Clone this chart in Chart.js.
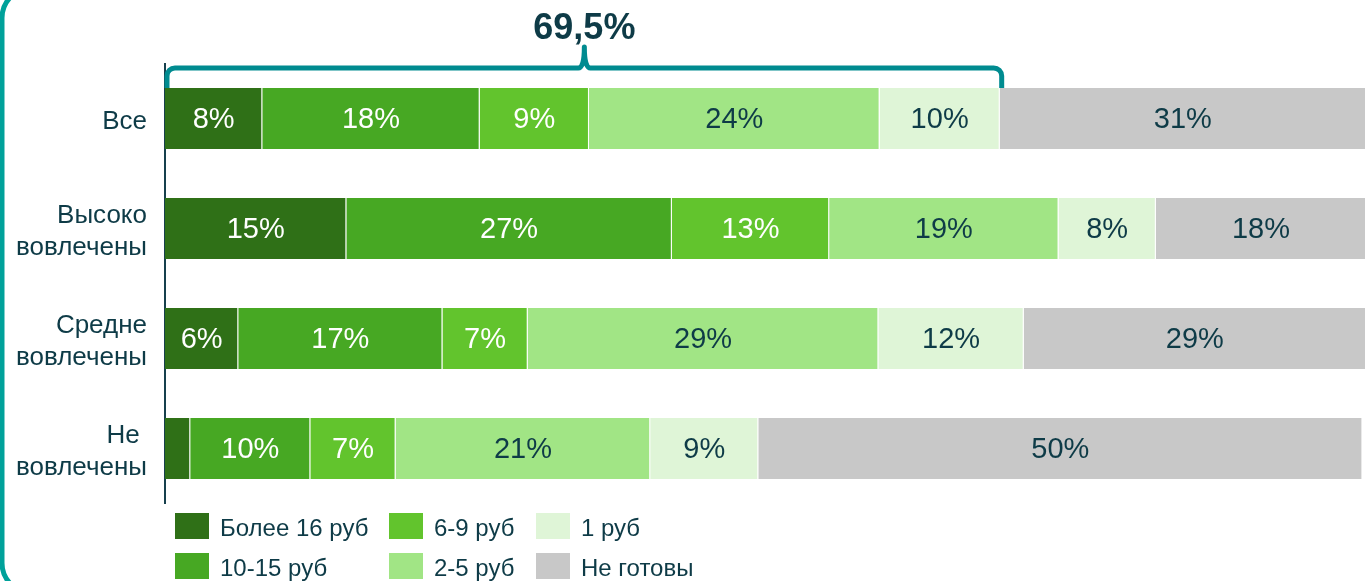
<!DOCTYPE html>
<html lang="ru">
  <head>
    <meta charset="utf-8" />
    <script src="https://cdn.jsdelivr.net/npm/chart.js"></script>
    <title>Готовность платить</title>
    <style>
      body {
        margin: 0;
        padding: 0;
        background: #ffffff;
      }

      #wrap {
        width: 1366px;
        height: 581px;
        position: relative;
      }
    </style>
  </head>
  <body>
    <div id="wrap">
      <canvas id="myChart"></canvas>
    </div>

    <script>
      // Категории (подписи оси Y)
      var categories = [['Все'], ['Высоко', 'вовлечены'], ['Средне', 'вовлечены'], ['Не ', 'вовлечены']];

      // Доли по сериям, %
      var more16 = [8.1, 15.1, 6.1, 2.1];
      var rub10to15 = [18.1, 27.1, 17.0, 10.0];
      var rub6to9 = [9.1, 13.1, 7.1, 7.1];
      var rub2to5 = [24.2, 19.1, 29.2, 21.2];
      var rub1 = [10.0, 8.1, 12.1, 9.0];
      var notReady = [30.5, 17.5, 28.5, 50.3];

      var seriesNames = ['Более 16 руб', '10-15 руб', '6-9 руб', '2-5 руб', '1 руб', 'Не готовы'];
      var seriesColors = ['#2f7017', '#47a823', '#62c42d', '#a1e585', '#dff5d7', '#c8c8c8'];
      var labelColors = ['#ffffff', '#ffffff', '#ffffff', '#0e3b47', '#0e3b47', '#0e3b47'];

      var textColor = '#0e3b47';
      var fontFamily = "'Liberation Sans', Arial, sans-serif";

      Chart.defaults.font.family = fontFamily;
      Chart.defaults.color = textColor;

      var allSeries = [more16, rub10to15, rub6to9, rub2to5, rub1, notReady];

      // подписи процентов на сегментах
      var barLabels = {
        id: 'barLabels',
        afterDatasetsDraw: function (chart) {
          var ctx = chart.ctx;
          ctx.save();
          ctx.font = '29px ' + fontFamily;
          ctx.textAlign = 'center';
          ctx.textBaseline = 'middle';
          chart.data.datasets.forEach(function (ds, i) {
            var meta = chart.getDatasetMeta(i);
            meta.data.forEach(function (bar, j) {
              var v = ds.data[j];
              if (v < 4) return;
              ctx.fillStyle = labelColors[i];
              ctx.fillText(Math.round(v) + '%', (bar.x + bar.base) / 2, bar.y + 1);
            });
          });
          ctx.restore();
        }
      };

      // рамка карточки слева
      var frame = {
        id: 'frame',
        beforeDraw: function (chart) {
          var ctx = chart.ctx;
          ctx.save();
          ctx.strokeStyle = '#00a19a';
          ctx.lineWidth = 5;
          ctx.beginPath();
          ctx.roundRect(2, -12, 1450, 605, 30);
          ctx.stroke();
          ctx.restore();
        }
      };

      // скобка над первой строкой и сумма
      var bracket = {
        id: 'bracket',
        afterDraw: function (chart) {
          var ctx = chart.ctx;
          var x = chart.scales.x;
          var first = chart.getDatasetMeta(0).data[0];
          var total = more16[0] + rub10to15[0] + rub6to9[0] + rub2to5[0] + rub1[0];
          var L = x.getPixelForValue(0) + 2;
          var R = x.getPixelForValue(total) + 2;
          var mid = (L + R) / 2;
          var bottom = first.y - first.height / 2;
          var top = bottom - 20;
          var r = 8;

          ctx.save();
          ctx.strokeStyle = '#008b90';
          ctx.lineWidth = 5;
          ctx.lineJoin = 'round';
          ctx.beginPath();
          ctx.moveTo(L, bottom);
          ctx.arcTo(L, top, L + r, top, r);
          ctx.lineTo(mid - 6, top);
          ctx.quadraticCurveTo(mid, top, mid, top - 21);
          ctx.quadraticCurveTo(mid, top, mid + 6, top);
          ctx.arcTo(R, top, R, top + r, r);
          ctx.lineTo(R, bottom);
          ctx.stroke();

          ctx.fillStyle = textColor;
          ctx.font = 'bold 36px ' + fontFamily;
          ctx.textAlign = 'center';
          ctx.textBaseline = 'alphabetic';
          ctx.fillText(total.toFixed(1).replace('.', ',') + '%', mid, top - 29);
          ctx.restore();
        }
      };

      // легенда 3 колонки x 2 строки, по столбцам
      var legendBox = {
        id: 'legendBox',
        afterDraw: function (chart) {
          var ctx = chart.ctx;
          var colX = [175, 389, 536];
          var rowY = [513, 553];
          ctx.save();
          ctx.font = '24px ' + fontFamily;
          ctx.textAlign = 'left';
          ctx.textBaseline = 'alphabetic';
          seriesNames.forEach(function (name, i) {
            var cx = colX[Math.floor(i / 2)];
            var cy = rowY[i % 2];
            ctx.fillStyle = seriesColors[i];
            ctx.fillRect(cx, cy, 34, 26);
            ctx.fillStyle = textColor;
            ctx.fillText(name, cx + 45, cy + 23);
          });
          ctx.restore();
        }
      };

      var datasets = allSeries.map(function (arr, i) {
        return {
          label: seriesNames[i],
          data: arr,
          backgroundColor: seriesColors[i],
          borderColor: 'rgba(255,255,255,0.35)',
          borderWidth: { top: 0, bottom: 0, left: 0, right: 1 },
          borderSkipped: false,
          categoryPercentage: 1,
          barPercentage: 0.555
        };
      });

      var ctx = document.getElementById('myChart').getContext('2d');
      var myChart = new Chart(ctx, {
        type: 'bar',
        data: { labels: categories, datasets: datasets },
        options: {
          indexAxis: 'y',
          responsive: true,
          maintainAspectRatio: false,
          animation: false,
          layout: { padding: { left: 0, right: 0, top: 63.5, bottom: 77.5 } },
          plugins: {
            legend: { display: false },
            tooltip: { enabled: false }
          },
          scales: {
            x: {
              stacked: true,
              min: 0,
              max: 100,
              display: false
            },
            y: {
              stacked: true,
              grid: { display: false, drawTicks: false },
              border: { display: true, color: '#17404d', width: 2 },
              ticks: {
                color: textColor,
                padding: 18,
                labelOffset: 3,
                font: { size: 26, lineHeight: 1.22 }
              },
              afterFit: function (scale) {
                scale.width = 165;
              }
            }
          }
        },
        plugins: [frame, barLabels, bracket, legendBox]
      });
    </script>
  </body>
</html>
